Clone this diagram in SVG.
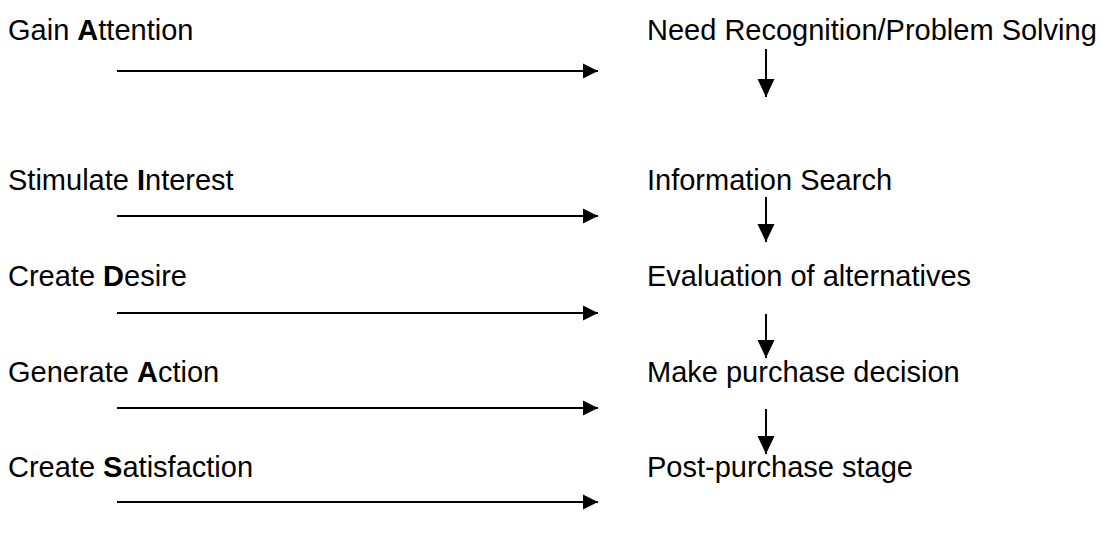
<svg xmlns="http://www.w3.org/2000/svg" width="1102" height="537" viewBox="0 0 1102 537">
  <style>
    .label { font-family: "Liberation Sans", Arial, sans-serif; font-size: 29px; fill: #000; }
    .label tspan.key { font-weight: bold; }
    .conn { stroke: #000; stroke-width: 2; fill: none; }
  </style>
  <defs>
    <marker id="head-h" markerUnits="userSpaceOnUse" markerWidth="16" markerHeight="16" refX="15" refY="8" orient="auto">
      <path d="M0,0.5 L15,8 L0,15.5 Z" fill="#000"/>
    </marker>
    <marker id="head-v" markerUnits="userSpaceOnUse" markerWidth="19" markerHeight="18" refX="18" refY="9" orient="auto">
      <path d="M0,0.5 L18,9 L0,17.5 Z" fill="#000"/>
    </marker>
  </defs>

  <rect width="1102" height="537" fill="#fff"/>

  <!-- AIDAS promotional steps (left column) -->
  <g id="gain-attention"><text class="label" x="8" y="40">Gain <tspan class="key">A</tspan>ttention</text></g>
  <g id="stimulate-interest"><text class="label" x="8" y="190">Stimulate <tspan class="key">I</tspan>nterest</text></g>
  <g id="create-desire"><text class="label" x="8" y="286">Create <tspan class="key">D</tspan>esire</text></g>
  <g id="generate-action"><text class="label" x="8" y="382">Generate <tspan class="key">A</tspan>ction</text></g>
  <g id="create-satisfaction"><text class="label" x="8" y="477">Create <tspan class="key">S</tspan>atisfaction</text></g>

  <!-- buying decision stages (right column) -->
  <g id="need-recognition"><text class="label" x="647" y="40">Need Recognition/Problem Solving</text></g>
  <g id="information-search"><text class="label" x="647" y="190">Information Search</text></g>
  <g id="evaluation"><text class="label" x="647" y="286">Evaluation of alternatives</text></g>
  <g id="purchase-decision"><text class="label" x="647" y="382">Make purchase decision</text></g>
  <g id="post-purchase"><text class="label" x="647" y="477">Post-purchase stage</text></g>

  <!-- connectors -->
  <g id="connectors">
    <line class="conn" x1="117" y1="71" x2="598" y2="71" marker-end="url(#head-h)"/>
    <line class="conn" x1="117" y1="216" x2="598" y2="216" marker-end="url(#head-h)"/>
    <line class="conn" x1="117" y1="313" x2="598" y2="313" marker-end="url(#head-h)"/>
    <line class="conn" x1="117" y1="408" x2="598" y2="408" marker-end="url(#head-h)"/>
    <line class="conn" x1="117" y1="502" x2="598" y2="502" marker-end="url(#head-h)"/>

    <line class="conn" x1="766" y1="49" x2="766" y2="97" marker-end="url(#head-v)"/>
    <line class="conn" x1="766" y1="197" x2="766" y2="242" marker-end="url(#head-v)"/>
    <line class="conn" x1="766" y1="314" x2="766" y2="358" marker-end="url(#head-v)"/>
    <line class="conn" x1="766" y1="409" x2="766" y2="454" marker-end="url(#head-v)"/>
  </g>
</svg>
